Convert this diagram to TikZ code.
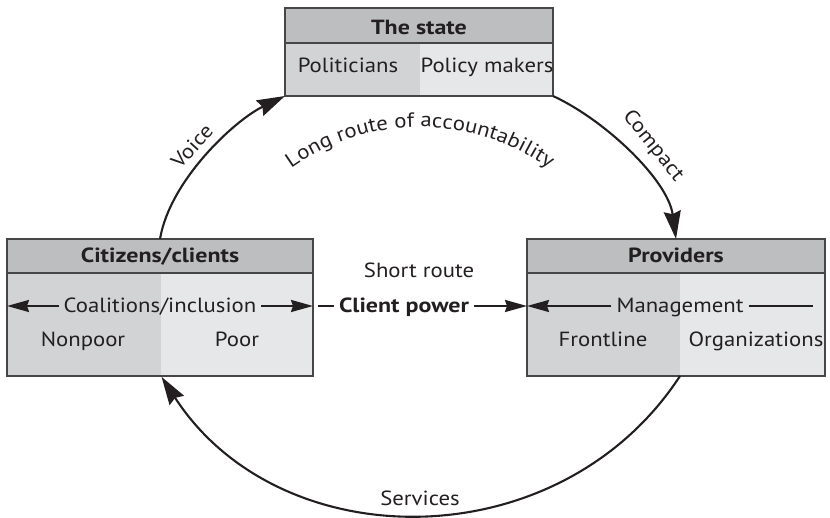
\documentclass[tikz,border=0pt]{standalone}
\usepackage{fontspec}
\setmainfont{PT Sans}[FakeStretch=1.11, BoldFeatures={FakeStretch=1.17}]
\usetikzlibrary{arrows.meta,decorations.text}
\definecolor{hdr}{RGB}{188,190,192}
\definecolor{dark}{RGB}{209,211,212}
\definecolor{light}{RGB}{230,231,232}
\definecolor{edge}{RGB}{70,70,72}
\definecolor{ink}{RGB}{35,31,32}
\newcommand\fs{\fontsize{20.5}{24}\selectfont}
\begin{document}
\begin{tikzpicture}[x=1pt,y=1pt, font=\fs, text=ink,
  cell/.style={anchor=north west, inner sep=0pt, outer sep=0pt},
  boxline/.style={draw=edge, line width=1.1pt, inner sep=0pt, outer sep=0pt, anchor=north west},
  lbl/.style={anchor=base, inner xsep=5pt, inner ysep=0pt, text height=14pt, text depth=0pt},
  hlbl/.style={lbl, font=\fs\bfseries},
  conn/.style={line width=2.1pt, draw=ink},
  bigtip/.style={-{Stealth[length=28pt,width=17pt,inset=3pt]}},
  smalltip/.style={-{Stealth[length=22pt,width=12pt,inset=2pt]}},
]
\useasboundingbox (0,0) rectangle (830,-518);

% ---- The state ----
\node[cell, fill=hdr,   minimum width=268pt, minimum height=35pt] (stH) at (285,-8) {};
\node[cell, fill=dark,  minimum width=135pt, minimum height=53pt] (stL) at (285,-43) {};
\node[cell, fill=light, minimum width=133pt, minimum height=53pt] (stR) at (420,-43) {};
\node[boxline, minimum width=268pt, minimum height=88pt] (st) at (285,-8) {};
\draw[draw=edge, line width=1.1pt] (stH.south west) -- (stH.south east);
\node[hlbl] (tSt) at (419,-35) {The state};
\node[lbl] (tPol) at (348,-73) {Politicians};
\node[lbl] (tPm) at (487,-73) {Policy makers};

% ---- Citizens/clients ----
\node[cell, fill=hdr,   minimum width=306pt, minimum height=34pt] (citH) at (7,-239) {};
\node[cell, fill=dark,  minimum width=154pt, minimum height=103pt] (citL) at (7,-273) {};
\node[cell, fill=light, minimum width=152pt, minimum height=103pt] (citR) at (161,-273) {};
\node[boxline, minimum width=306pt, minimum height=137pt] (cit) at (7,-239) {};
\draw[draw=edge, line width=1.1pt] (citH.south west) -- (citH.south east);
\node[hlbl] (tCit) at (160,-263) {Citizens/clients};
\node[lbl] (coal) at (160,-313) {Coalitions/inclusion};
\node[lbl] (tNp) at (83,-347) {Nonpoor};
\node[lbl] (tPoor) at (237,-347) {Poor};

% ---- Providers ----
\node[cell, fill=hdr,   minimum width=298pt, minimum height=34pt] (provH) at (527,-239) {};
\node[cell, fill=dark,  minimum width=153pt, minimum height=103pt] (provL) at (527,-273) {};
\node[cell, fill=light, minimum width=145pt, minimum height=103pt] (provR) at (680,-273) {};
\node[boxline, minimum width=298pt, minimum height=137pt] (prov) at (527,-239) {};
\draw[draw=edge, line width=1.1pt] (provH.south west) -- (provH.south east);
\node[hlbl] (tProv) at (676,-263) {Providers};
\node[lbl] (mg) at (680,-313) {Management};
\node[lbl] (tFr) at (603,-347) {Frontline};
\node[lbl] (tOrg) at (756,-347) {Organizations};

% ---- middle ----
\node[lbl] (tShort) at (419,-278) {Short route};
\node[hlbl] (cp) at (404,-313) {Client power};

% ---- inner connectors ----
\draw[conn, smalltip] (coal.west) -- (coal.west -| cit.west);
\draw[conn, smalltip] (coal.east) -- (coal.east -| cit.east);
\path (cit.east |- cp.west) ++(5,0) coordinate (cpL);
\draw[conn] (cp.west) -- (cpL);
\draw[conn, smalltip] (cp.east) -- (cp.east -| prov.west);
\draw[conn, smalltip] (mg.west) -- (mg.west -| prov.west);
\path (prov.east |- mg.east) ++(-12,0) coordinate (mgR);
\draw[conn] (mg.east) -- (mgR);

% ---- outer arcs ----
\draw[conn, bigtip] (citH.north) .. controls (170,-180) and (235,-120) .. (st.south west);
\draw[conn, bigtip] (st.south east) .. controls (605,-120) and (668,-180) .. (provH.north);
\draw[conn, bigtip, shorten >=1pt] (provL.south east) .. controls (560,-560) and (280,-560) .. (citL.south east);

\node[inner sep=0pt, rotate=48] (tVoice) at (192,-146) {Voice};
\node[inner sep=0pt, rotate=-51] (tComp) at (653,-146) {Compact};
\node[lbl] (tServ) at (420,-505) {Services};

\path[decorate, decoration={text along path, text align=center, text color=ink,
   text={|\fs|Long route of accountability}}]
   (420,-349) ++(130:222) arc[start angle=130, end angle=50, radius=222];
\end{tikzpicture}
\end{document}
